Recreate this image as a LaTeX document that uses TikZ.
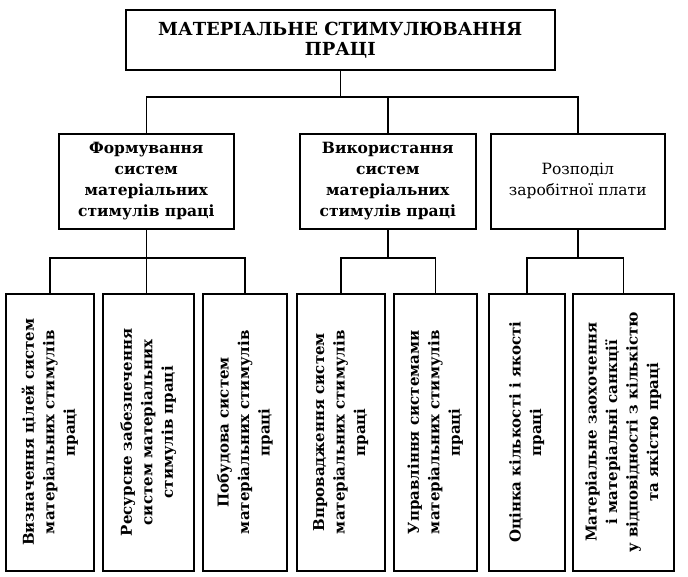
\documentclass[tikz,border=0pt]{standalone}
\usepackage{fontspec}
\setmainfont{DejaVu Serif}
\begin{document}
\begin{tikzpicture}[x=1pt,y=-1pt,
  bx/.style={draw, line width=1.6pt, inner sep=0pt, anchor=north west, align=center},
  lvl/.style={bx, minimum height=95pt},
  leaf/.style={bx, minimum height=277pt},
  ttop/.style={font=\fontsize{18}{20}\selectfont\bfseries},
  tmid/.style={font=\fontsize{15.5}{21}\selectfont\bfseries},
  tmidr/.style={font=\fontsize{15.5}{21}\selectfont},
  tleaf/.style={rotate=90, align=center, inner sep=0pt, font=\fontsize{15}{20.5}\selectfont\bfseries},
  conn/.style={line width=1.6pt}]
\useasboundingbox (0,0) rectangle (688,577);
% top
\node[bx, ttop, minimum width=429pt, minimum height=60pt] (T) at (125,9) {МАТЕРІАЛЬНЕ СТИМУЛЮВАННЯ\\ПРАЦІ};
% level 2
\node[lvl, tmid, minimum width=175pt] (B1) at (58,133) {Формування\\систем\\матеріальних\\стимулів праці};
\node[lvl, tmid, minimum width=176pt] (B2) at (299,133) {Використання\\систем\\матеріальних\\стимулів праці};
\node[lvl, tmidr, minimum width=174pt] (B3) at (490,133) {Розподіл\\заробітної плати};
% leaves
\node[leaf, minimum width=88pt] (L1) at (5,293) {};
\node[leaf, minimum width=91pt] (L2) at (102,293) {};
\node[leaf, minimum width=84pt] (L3) at (202,293) {};
\node[leaf, minimum width=88pt] (L4) at (296,293) {};
\node[leaf, minimum width=83pt] (L5) at (393,293) {};
\node[leaf, minimum width=76pt] (L6) at (488,293) {};
\node[leaf, minimum width=101pt] (L7) at (572,293) {};
\node[tleaf] (L1t) at (L1.center) {Визначення цілей систем\\матеріальних стимулів\\праці};
\node[tleaf] (L2t) at (L2.center) {Ресурсне забезпечення\\систем матеріальних\\стимулів праці};
\node[tleaf] (L3t) at (L3.center) {Побудова систем\\матеріальних стимулів\\праці};
\node[tleaf] (L4t) at (L4.center) {Впровадження систем\\матеріальних стимулів\\праці};
\node[tleaf] (L5t) at (L5.center) {Управління системами\\матеріальних стимулів\\праці};
\node[tleaf] (L6t) at (L6.center) {Оцінка кількості і якості\\праці};
\node[tleaf] (L7t) at (L7.center) {Матеріальне заохочення\\і матеріальні санкції\\у відповідності з кількістю\\та якістю праці};
% junctions
\coordinate (J0) at (339.5,97);
\coordinate (J1) at (0,258);
% connectors
\draw[conn] (T.south) -- (T.south |- J0);
\draw[conn] (B1.north) -- (B1.north |- J0) -- (B3.north |- J0) -- (B3.north);
\draw[conn] (B2.north) -- (B2.north |- J0);
\draw[conn] (B1.south) -- (B1.south |- L2.north);
\draw[conn] (L1.north) -- (L1.north |- J1) -- (L3.north |- J1) -- (L3.north);
\draw[conn] (B2.south) -- (B2.south |- J1);
\draw[conn] (L4.north) -- (L4.north |- J1) -- (L5.north |- J1) -- (L5.north);
\draw[conn] (B3.south) -- (B3.south |- J1);
\draw[conn] (L6.north) -- (L6.north |- J1) -- (L7.north |- J1) -- (L7.north);
\end{tikzpicture}
\end{document}
